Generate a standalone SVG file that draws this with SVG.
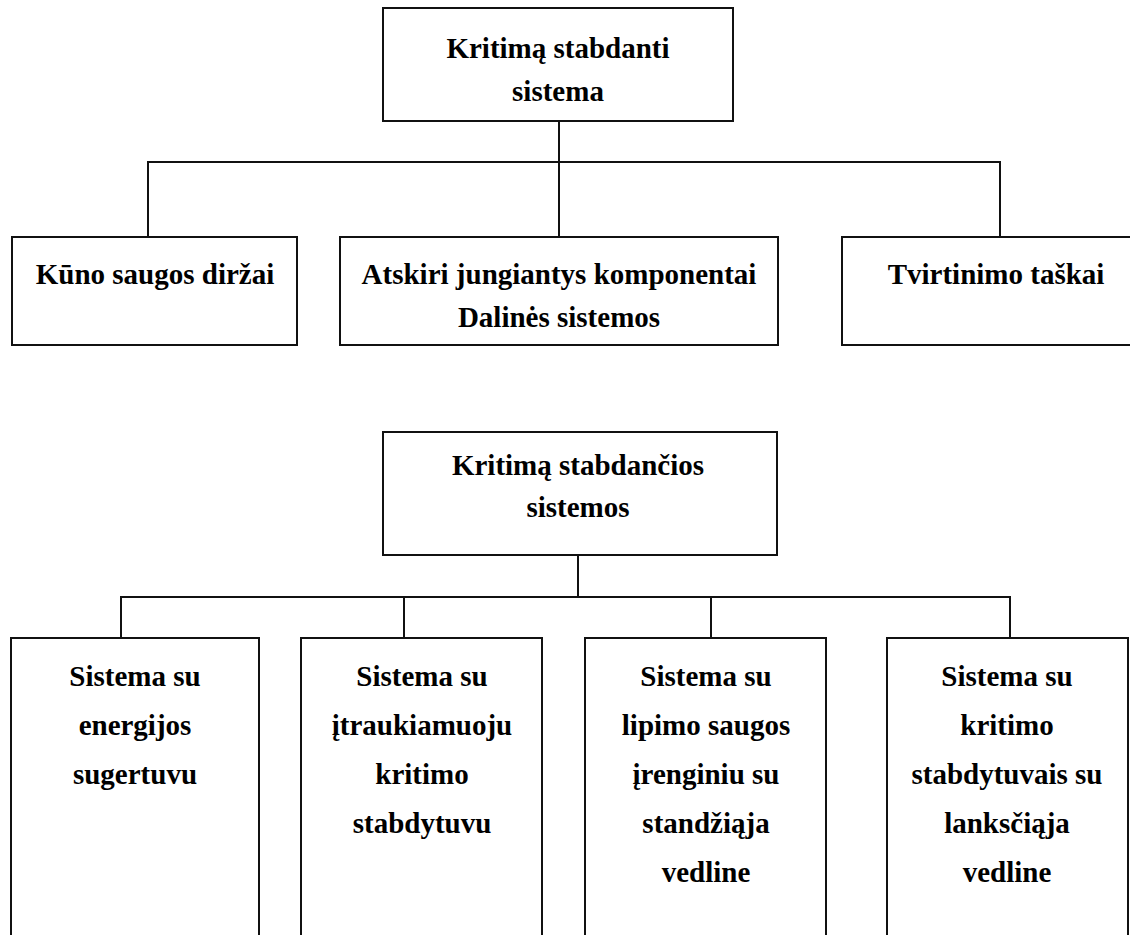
<svg xmlns="http://www.w3.org/2000/svg" width="1130" height="935" viewBox="0 0 1130 935">
<style>
.box{fill:#fff;stroke:#111;stroke-width:2}
.t{font-family:"Liberation Serif","Times New Roman",serif;font-weight:bold;font-size:29px;fill:#000;text-anchor:middle}
.c{stroke:#111;stroke-width:2;fill:none}
</style>
<rect width="1130" height="935" fill="#fff"/>
<g id="connectors">
<path class="c" d="M559 121V237M148 237V162H1000V237"/>
<path class="c" d="M578 555V597M121 637V597H1010V637M404 597V637M711 597V637"/>
</g>
<g id="n1"><rect class="box" x="383" y="8" width="350" height="113"/><text class="t" x="558" y="58">Kritimą stabdanti</text><text class="t" x="558" y="101">sistema</text></g>
<g id="n2"><rect class="box" x="12" y="237" width="285" height="108"/><text class="t" x="155" y="284">Kūno saugos diržai</text></g>
<g id="n3"><rect class="box" x="340" y="237" width="438" height="108"/><text class="t" x="559" y="284">Atskiri jungiantys komponentai</text><text class="t" x="559" y="327">Dalinės sistemos</text></g>
<g id="n4"><rect class="box" x="842" y="237" width="300" height="108"/><text class="t" x="996" y="284">Tvirtinimo taškai</text></g>
<g id="n5"><rect class="box" x="383" y="432" width="394" height="123"/><text class="t" x="578" y="475">Kritimą stabdančios</text><text class="t" x="578" y="517">sistemos</text></g>
<g id="n6"><rect class="box" x="11" y="638" width="248" height="310"/><text class="t" x="135" y="686">Sistema su</text><text class="t" x="135" y="735">energijos</text><text class="t" x="135" y="784">sugertuvu</text></g>
<g id="n7"><rect class="box" x="301" y="638" width="241" height="310"/><text class="t" x="422" y="686">Sistema su</text><text class="t" x="422" y="735">įtraukiamuoju</text><text class="t" x="422" y="784">kritimo</text><text class="t" x="422" y="833">stabdytuvu</text></g>
<g id="n8"><rect class="box" x="585" y="638" width="241" height="310"/><text class="t" x="706" y="686">Sistema su</text><text class="t" x="706" y="735">lipimo saugos</text><text class="t" x="706" y="784">įrenginiu su</text><text class="t" x="706" y="833">standžiąja</text><text class="t" x="706" y="882">vedline</text></g>
<g id="n9"><rect class="box" x="887" y="638" width="241" height="310"/><text class="t" x="1007" y="686">Sistema su</text><text class="t" x="1007" y="735">kritimo</text><text class="t" x="1007" y="784">stabdytuvais su</text><text class="t" x="1007" y="833">lanksčiąja</text><text class="t" x="1007" y="882">vedline</text></g>
</svg>
